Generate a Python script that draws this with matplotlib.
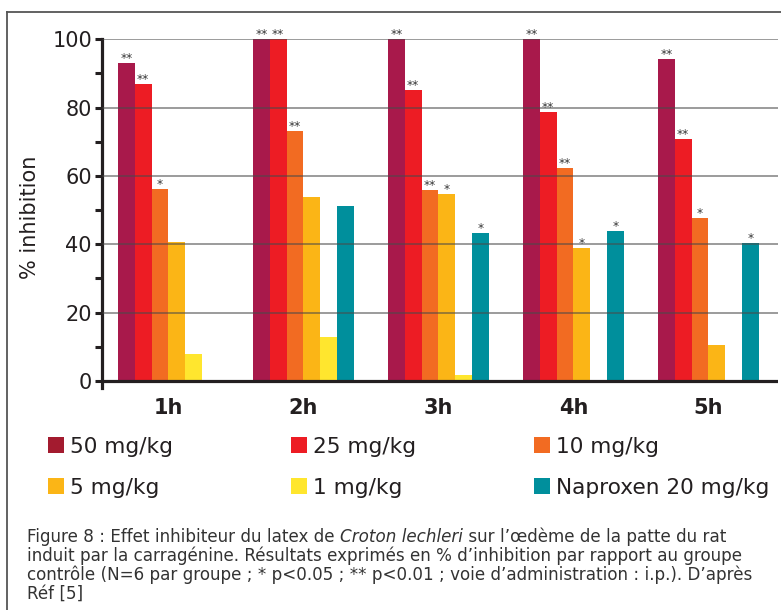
import matplotlib
matplotlib.use("Agg")
import matplotlib.pyplot as plt
from matplotlib.lines import Line2D
from matplotlib.patches import Rectangle
from matplotlib.ticker import MultipleLocator
import numpy as np

# ---------------------------------------------------------------- data
times = ["1h", "2h", "3h", "4h", "5h"]
series = ["50 mg/kg", "25 mg/kg", "10 mg/kg", "5 mg/kg", "1 mg/kg",
          "Naproxen 20 mg/kg"]

inhib_50 = [93.0, 100.0, 100.0, 100.0, 94.2]
inhib_25 = [86.8, 100.0, 85.2, 78.8, 70.9]
inhib_10 = [56.2, 73.2, 56.0, 62.3, 47.8]
inhib_5 = [40.8, 53.9, 54.8, 39.0, 10.6]
inhib_1 = [8.0, 13.0, 1.8, 0.0, 0.0]
inhib_napro = [np.nan, 51.2, 43.4, 44.0, 40.5]

sig_50 = ["**", "**", "**", "**", "**"]
sig_25 = ["**", "**", "**", "**", "**"]
sig_10 = ["*", "**", "**", "**", "*"]
sig_5 = ["", "", "*", "*", ""]
sig_1 = ["", "", "", "", ""]
sig_napro = ["", "", "*", "*", "*"]

values = [inhib_50, inhib_25, inhib_10, inhib_5, inhib_1, inhib_napro]
signif = [sig_50, sig_25, sig_10, sig_5, sig_1, sig_napro]

bar_colors = ["#A8194B", "#ED1C24", "#F26B22", "#FBB516", "#FFE62E", "#008F9C"]
key_colors = ["#A31B2F", "#ED1C24", "#F26B22", "#FBB516", "#FFE62E", "#008F9C"]

INK = "#231F20"

# ---------------------------------------------------------------- figure
W, H, DPI = 781, 610, 100
fig = plt.figure(figsize=(W / DPI, H / DPI), dpi=DPI)
plt.rcParams["font.family"] = ["DejaVu Sans"]


def fx(px):
    return px / W


def fy(py):
    return 1 - py / H


# outer frame (top and left edges)
fig.add_artist(Line2D([fx(7), fx(781)], [fy(12), fy(12)], color="#555555", lw=1.3))
fig.add_artist(Line2D([fx(7), fx(7)], [fy(12), fy(610)], color="#555555", lw=1.3))

# ---------------------------------------------------------------- axes
ax_l, ax_r, ax_t, ax_b = 102, 778, 39.3, 388
ax = fig.add_axes([fx(ax_l), fy(ax_b), (ax_r - ax_l) / W, (ax_b - ax_t) / H])

x = np.arange(len(times))
width = 0.1244
for j, (vals, col) in enumerate(zip(values, bar_colors)):
    pos = x + (j - 2.5) * width
    ax.bar(pos, vals, width=width, color=col, linewidth=0, zorder=1)
    for p, v, s in zip(pos, vals, signif[j]):
        if s and not np.isnan(v):
            ax.annotate(s, (p, v), xytext=(0, -1.5), textcoords="offset points",
                        ha="center", va="bottom", fontsize=8.8, color="#333333",
                        annotation_clip=False, zorder=5)

ax.set_xlim(-0.492, 4.516)
ax.set_ylim(-2.05, 100)

for side in ("top", "right", "bottom"):
    ax.spines[side].set_visible(False)
ax.spines["left"].set_linewidth(2.3)
ax.spines["left"].set_color(INK)

ax.axhline(0, color=INK, lw=2.3, zorder=4)

ax.yaxis.set_major_locator(MultipleLocator(20))
ax.yaxis.set_minor_locator(MultipleLocator(10))
ax.tick_params(axis="y", which="both", direction="out", length=5.2, width=2.2,
               color=INK)
ax.tick_params(axis="y", which="major", labelsize=15, pad=2, labelcolor=INK)

ax.set_xticks(x)
ax.set_xticklabels(times, fontsize=15, fontweight="bold", color=INK)
ax.tick_params(axis="x", length=0, pad=7)

ax.set_axisbelow(False)
ax.yaxis.grid(True, which="major", color="#4a4a4a", alpha=0.55, lw=1.4)
ax.xaxis.grid(False)

fig.text(fx(30), fy(217), "% inhibition", rotation=90, ha="center", va="center",
         fontsize=15, color=INK)

# ---------------------------------------------------------------- key
key_sq = 16
key_cols = [48, 291, 534]
key_rows = [445, 486]
for k, (name, col) in enumerate(zip(series, key_colors)):
    cx = key_cols[k % 3]
    cy = key_rows[k // 3]
    fig.add_artist(Rectangle((fx(cx), fy(cy + key_sq / 2)), key_sq / W, key_sq / H,
                             facecolor=col, edgecolor="none"))
    fig.text(fx(cx + 22), fy(cy), name, ha="left", va="center_baseline",
             fontsize=15.6, color=INK)

# ---------------------------------------------------------------- caption
cap_kw = dict(fontsize=12.1, color="#333333", ha="left", va="baseline")
cap_x = 27
line_y = [542, 561, 580, 599]

renderer = fig.canvas.get_renderer()
pieces = [("Figure 8 : Effet inhibiteur du latex de ", "normal"),
          ("Croton lechleri", "italic"),
          (" sur l\u2019\u0153d\u00e8me de la patte du rat", "normal")]
cur = fx(cap_x)
for txt, style in pieces:
    t = fig.text(cur, fy(line_y[0]), txt, style=style, **cap_kw)
    bb = t.get_window_extent(renderer)
    cur += bb.width / W

other_lines = [
    "induit par la carrag\u00e9nine. R\u00e9sultats exprim\u00e9s en % d\u2019inhibition par rapport au groupe",
    "contr\u00f4le (N=6 par groupe ; * p<0.05 ; ** p<0.01 ; voie d\u2019administration : i.p.). D\u2019apr\u00e8s",
    "R\u00e9f [5]",
]
for yy, txt in zip(line_y[1:], other_lines):
    fig.text(fx(cap_x), fy(yy), txt, **cap_kw)

fig.savefig("out.png", dpi=DPI)
